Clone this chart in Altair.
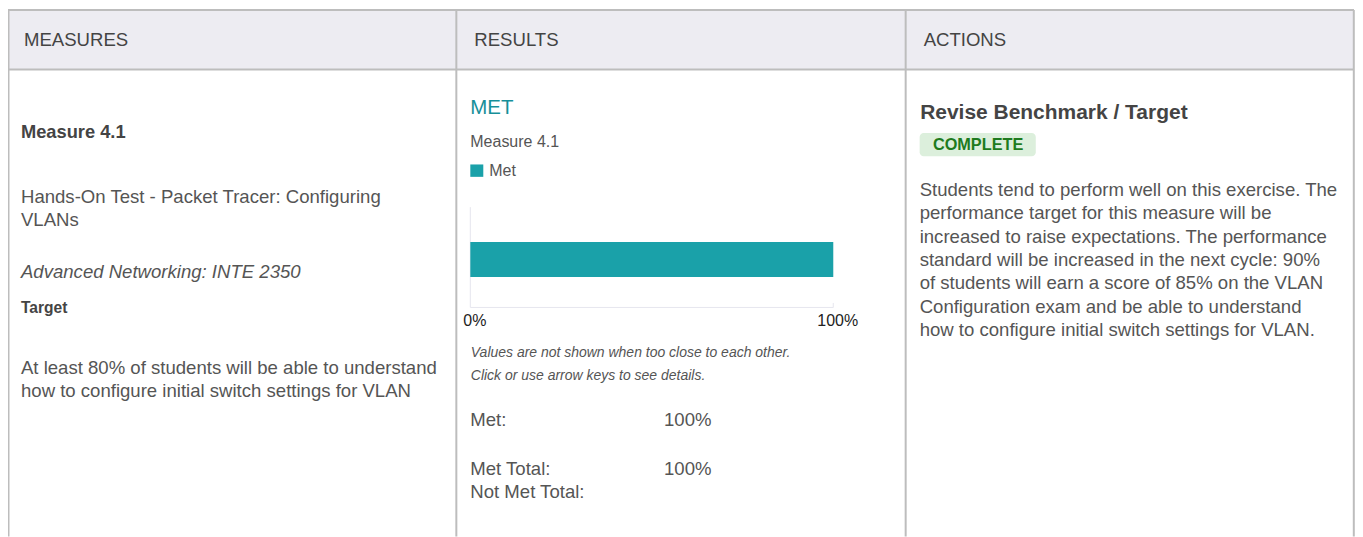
import altair as alt
import pandas as pd

FONT = "Liberation Sans"

# ---- data ----
categories = ["Measure 4.1"]
met_pct = [100]
axis_ticks = [0, 100]
axis_tick_labels = ["0%", "100%"]
column_headers = ["MEASURES", "RESULTS", "ACTIONS"]
legend_labels = ["Met"]
summary_labels = ["Met:", "Met Total:", "Not Met Total:"]
summary_values = ["100%", "100%", ""]
measure_title = "Measure 4.1"
measure_desc = ["Hands-On Test - Packet Tracer: Configuring", "VLANs"]
course = "Advanced Networking: INTE 2350"
target_text = ["At least 80% of students will be able to understand",
               "how to configure initial switch settings for VLAN"]
result_status = "MET"
notes = ["Values are not shown when too close to each other.",
         "Click or use arrow keys to see details."]
action_title = "Revise Benchmark / Target"
action_status = "COMPLETE"
action_text = ["Students tend to perform well on this exercise. The",
               "performance target for this measure will be",
               "increased to raise expectations. The performance",
               "standard will be increased in the next cycle: 90%",
               "of students will earn a score of 85% on the VLAN",
               "Configuration exam and be able to understand",
               "how to configure initial switch settings for VLAN."]

W, H = 1349, 529
TEAL = "#1aa1a9"
TEAL_TXT = "#178f99"
BORDER = "#bdbdbd"
TXT = "#555555"
HEAD = "#444444"
GRID = "#e6e6ee"
BODY = 18.6

one = pd.DataFrame({"k": [0]})
layers = []


def txt(s, x, y, size=BODY, color=TXT, weight="normal", style="normal", align="left"):
    return alt.Chart(one).mark_text(
        text=s, font=FONT, fontSize=size, color=color, fontWeight=weight,
        fontStyle=style, align=align, baseline="alphabetic"
    ).encode(x=alt.value(x), y=alt.value(y))


def rule(x1, y1, x2, y2, color=BORDER, width=2):
    return alt.Chart(one).mark_rule(color=color, strokeWidth=width).encode(
        x=alt.value(x1), y=alt.value(y1), x2=alt.value(x2), y2=alt.value(y2))


# header background
layers.append(alt.Chart(one).mark_rect(color="#edecf2").encode(
    x=alt.value(0), x2=alt.value(1348), y=alt.value(1.5), y2=alt.value(61.5)))

# borders
layers.append(rule(0, 1.5, 1348, 1.5))
layers.append(rule(0, 61.3, 1348, 61.3))
for bx in [0.5, 449, 899, 1347.8]:
    layers.append(rule(bx, 1.5, bx, H))

# headers
for hx, h in zip([16, 467, 917], column_headers):
    layers.append(txt(h, hx, 37.7, size=BODY, color=HEAD))

# column 1
layers.append(txt(measure_title, 13, 130.3, size=18.3, color=HEAD, weight="bold"))
layers.append(txt(measure_desc[0], 13, 194.7))
layers.append(txt(measure_desc[1], 13, 218))
layers.append(txt(course, 13, 269.7, style="italic"))
layers.append(txt("Target", 13, 304.7, size=15.6, color=HEAD, weight="bold"))
layers.append(txt(target_text[0], 13, 366.3))
layers.append(txt(target_text[1], 13, 389.6))

# column 2
layers.append(txt(result_status, 463, 105.3, size=20.5, color=TEAL_TXT))
layers.append(txt(categories[0], 463, 138.7, size=16))
layers.append(alt.Chart(one).mark_rect(color=TEAL).encode(
    x=alt.value(463), x2=alt.value(476), y=alt.value(156.3), y2=alt.value(168.7)))
layers.append(txt(legend_labels[0], 482, 167.7, size=16))

xscale = alt.Scale(domain=[axis_ticks[0], axis_ticks[-1]], range=[463, 826.5])

tick_df = pd.DataFrame({"tick": axis_ticks, "label": axis_tick_labels})
span_df = pd.DataFrame({"start": [axis_ticks[0]], "end": [axis_ticks[-1]]})

# axis: left line at 0, baseline, end tick
layers.append(alt.Chart(tick_df).transform_filter(alt.datum.tick == axis_ticks[0]).mark_rule(
    color=GRID, strokeWidth=1).encode(
    x=alt.X("tick:Q", scale=xscale, axis=None), y=alt.value(199), y2=alt.value(299.5)))
layers.append(alt.Chart(span_df).mark_rule(color=GRID, strokeWidth=1).encode(
    x=alt.X("start:Q", scale=xscale, axis=None), x2="end:Q", y=alt.value(299.5)))
layers.append(alt.Chart(tick_df).transform_filter(alt.datum.tick == axis_ticks[-1]).mark_rule(
    color=GRID, strokeWidth=1).encode(
    x=alt.X("tick:Q", scale=xscale, axis=None), y=alt.value(295), y2=alt.value(299.5)))

# bar
bar_df = pd.DataFrame({"category": categories, "value": met_pct})
layers.append(alt.Chart(bar_df).mark_bar(color=TEAL).encode(
    x=alt.X("value:Q", scale=xscale, axis=None),
    y=alt.Y("category:N", scale=alt.Scale(range=[202, 301], paddingInner=0.4776, paddingOuter=0.4776),
            axis=None)))

# tick labels
layers.append(alt.Chart(tick_df).mark_text(
    font=FONT, fontSize=16, color="#222222", align="center", baseline="alphabetic", dx=4.5).encode(
    x=alt.X("tick:Q", scale=xscale, axis=None), y=alt.value(318), text="label:N"))

layers.append(txt(notes[0], 463.5, 348.7, size=14, style="italic"))
layers.append(txt(notes[1], 463.5, 372, size=14, style="italic"))

for lab, val, yy in zip(summary_labels, summary_values, [418.7, 467, 490.3]):
    layers.append(txt(lab, 463, yy))
    if val:
        layers.append(txt(val, 657, yy))

# column 3
layers.append(txt(action_title, 913.5, 111, size=21, color=HEAD, weight="bold"))
layers.append(alt.Chart(one).mark_rect(color="#dcefdc", cornerRadius=4).encode(
    x=alt.value(913), x2=alt.value(1029.3), y=alt.value(124.7), y2=alt.value(148)))
layers.append(txt(action_status, 926.3, 142, size=16.3, color="#1e7b1e", weight="bold"))
for i, line in enumerate(action_text):
    layers.append(txt(line, 913, 188 + i * 23.33))

chart = alt.layer(*layers).properties(
    width=W, height=H, padding=0,
    autosize=alt.AutoSizeParams(type="none"),
    background="white"
).configure_view(stroke=None)

chart.save("out.html", embed_options={"renderer": "svg", "actions": False})
